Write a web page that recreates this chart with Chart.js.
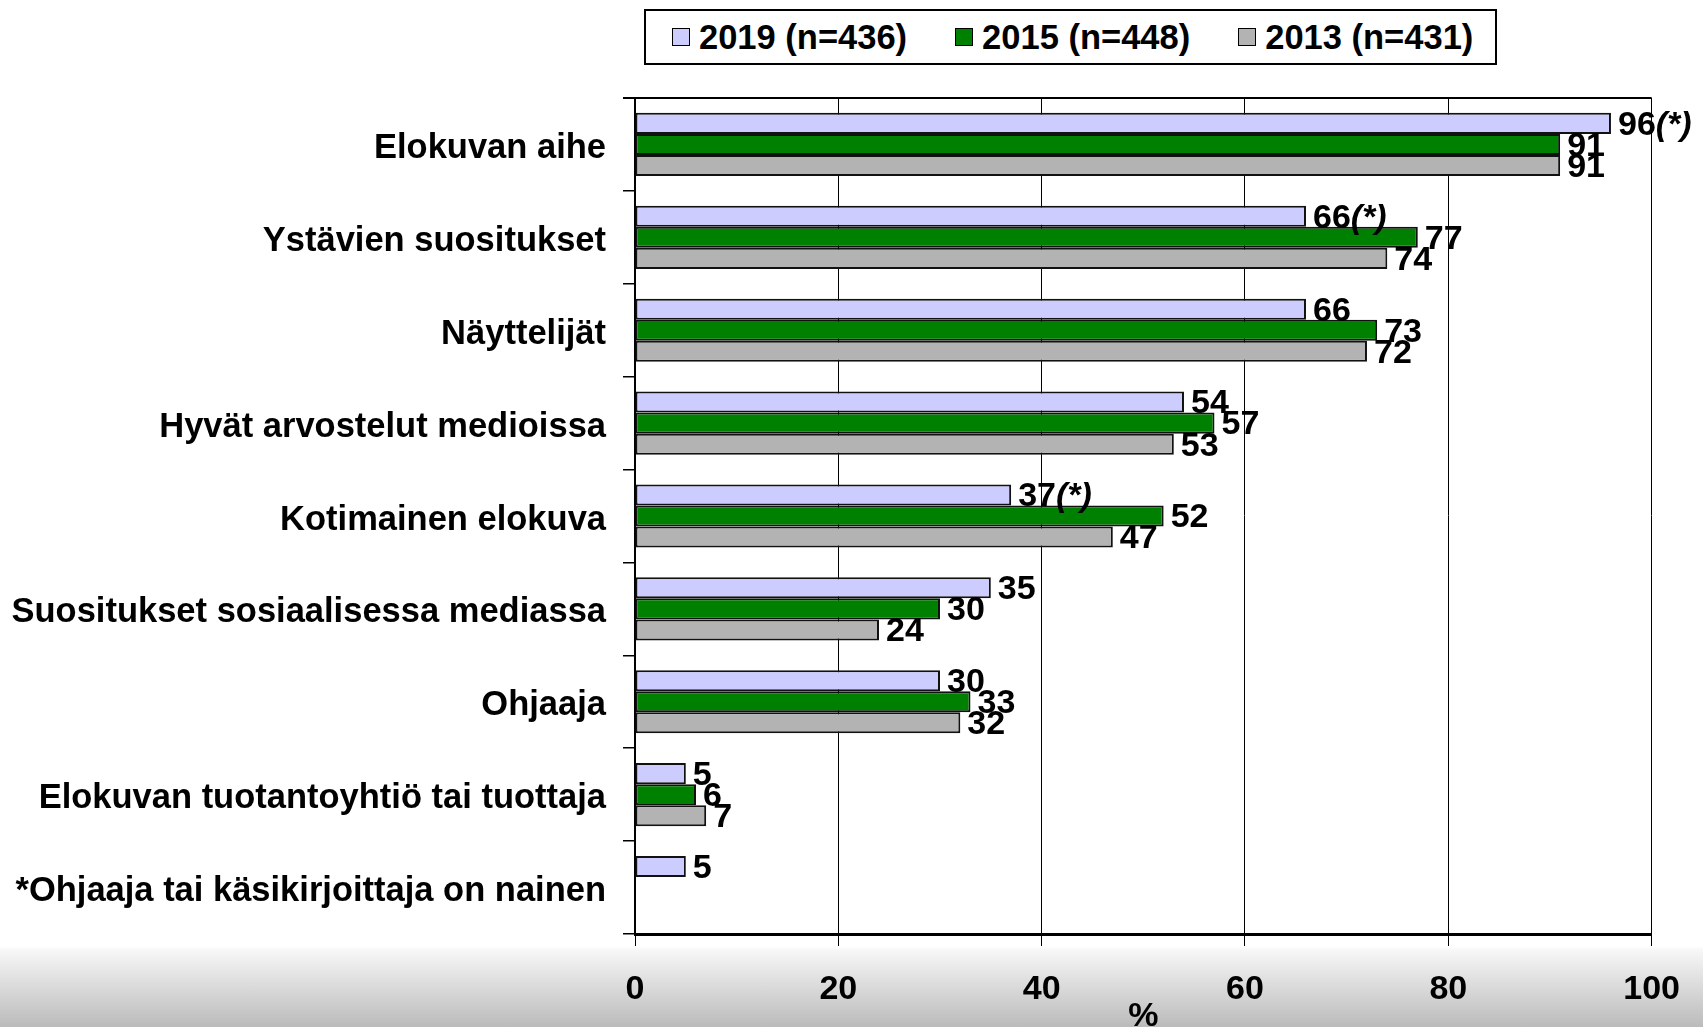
<!DOCTYPE html>
<html>
<head>
<meta charset="utf-8">
<title>Elokuvan valintaan vaikuttavat tekijät</title>
<script src="https://cdn.jsdelivr.net/npm/chart.js@4.4.1/dist/chart.umd.min.js"></script>
<style>
  html, body { margin: 0; padding: 0; }
  body {
    width: 1703px; height: 1027px; overflow: hidden; position: relative;
    background: linear-gradient(to bottom, #ffffff 0px, #ffffff 946px, #f7f7f7 950px, #bbbbbb 1027px);
    font-family: "Liberation Sans", Arial, sans-serif;
  }
  #chart { position: absolute; left: 0; top: 0; }
  #legend {
    position: absolute; left: 644px; top: 9px; width: 853px; height: 56px;
    box-sizing: border-box; border: 2px solid #000; background: #fff;
    display: flex; align-items: center; padding-left: 26px; gap: 48px;
  }
  .item { display: flex; align-items: center; font-weight: bold; font-size: 34.5px; color: #000; }
  .swatch { width: 18px; height: 18px; box-sizing: border-box; border: 1.5px solid #000; margin-right: 9px; }
</style>
</head>
<body>
<canvas id="chart" width="1703" height="1027"></canvas>
<div id="legend"></div>
<script>
const FONT = '"Liberation Sans", Arial, sans-serif';

const categories = [
    "Elokuvan aihe",
    "Ystävien suositukset",
    "Näyttelijät",
    "Hyvät arvostelut medioissa",
    "Kotimainen elokuva",
    "Suositukset sosiaalisessa mediassa",
    "Ohjaaja",
    "Elokuvan tuotantoyhtiö tai tuottaja",
    "*Ohjaaja tai käsikirjoittaja on nainen"
];
const seriesNames = ["2019 (n=436)", "2015 (n=448)", "2013 (n=431)"];
const values2019 = [96, 66, 66, 54, 37, 35, 30, 5, 5];
const values2015 = [91, 77, 73, 57, 52, 30, 33, 6, null];
const values2013 = [91, 74, 72, 53, 47, 24, 32, 7, null];
// (*) merkintä 2019-arvoissa
const starred2019 = [true, true, false, false, true, false, false, false, false];
const xTicks = [0, 20, 40, 60, 80, 100];

const colors = ["#ccccff", "#008000", "#b3b3b3"];

// Legend as html box
const legendEl = document.getElementById("legend");
seriesNames.forEach((name, i) => {
    const item = document.createElement("div");
    item.className = "item";
    const sw = document.createElement("span");
    sw.className = "swatch";
    sw.style.background = colors[i];
    item.appendChild(sw);
    item.appendChild(document.createTextNode(name));
    legendEl.appendChild(item);
});

// Value labels at the bar ends
const valueLabels = {
    id: "valueLabels",
    afterDatasetsDraw(chart) {
        const ctx = chart.ctx;
        ctx.save();
        ctx.textBaseline = "middle";
        ctx.textAlign = "left";
        ctx.fillStyle = "#000";
        chart.data.datasets.forEach((ds, di) => {
            const meta = chart.getDatasetMeta(di);
            meta.data.forEach((bar, i) => {
                const v = ds.data[i];
                if (v === null || v === undefined) return;
                const x = bar.x + 7;
                const y = bar.y + 2;
                const txt = String(v);
                ctx.font = "bold 34px " + FONT;
                ctx.fillText(txt, x, y);
                if (di === 0 && starred2019[i]) {
                    const w = ctx.measureText(txt).width;
                    ctx.font = "italic bold 34px " + FONT;
                    ctx.fillText("(*)", x + w, y);
                }
            });
        });
        ctx.restore();
    }
};

// Top frame line
const topLine = {
    id: "topLine",
    afterDraw(chart) {
        const { ctx, chartArea } = chart;
        ctx.save();
        ctx.strokeStyle = "#000";
        ctx.lineWidth = 2;
        ctx.beginPath();
        ctx.moveTo(chartArea.left - 12, chartArea.top);
        ctx.lineTo(chartArea.right, chartArea.top);
        ctx.stroke();
        ctx.restore();
    }
};

const ctx = document.getElementById("chart").getContext("2d");
new Chart(ctx, {
    type: "bar",
    data: {
        labels: categories,
        datasets: [
            { label: seriesNames[0], data: values2019, backgroundColor: colors[0] },
            { label: seriesNames[1], data: values2015, backgroundColor: colors[1] },
            { label: seriesNames[2], data: values2013, backgroundColor: colors[2] }
        ].map(d => Object.assign(d, {
            borderColor: "#111",
            borderWidth: 2,
            borderSkipped: false,
            categoryPercentage: 0.68,
            barPercentage: 1.0
        }))
    },
    options: {
        indexAxis: "y",
        responsive: false,
        animation: false,
        devicePixelRatio: 1,
        layout: { padding: { top: 98, right: 50, bottom: 0, left: 0 } },
        plugins: {
            legend: { display: false },
            tooltip: { enabled: false }
        },
        scales: {
            x: {
                min: 0,
                max: 100,
                afterBuildTicks(scale) {
                    scale.ticks = xTicks.map(v => ({ value: v }));
                },
                ticks: {
                    color: "#000",
                    padding: 23,
                    font: { family: FONT, size: 34, weight: "bold" }
                },
                grid: { color: "#000", lineWidth: 1, tickLength: 12 },
                border: { color: "#000", width: 3 },
                title: {
                    display: true,
                    text: "%",
                    color: "#000",
                    font: { family: FONT, size: 34, weight: "bold", lineHeight: 1 },
                    padding: { top: 0, bottom: -7 }
                },
                afterFit(scale) { scale.height = 93; }
            },
            y: {
                grid: {
                    display: true,
                    drawOnChartArea: false,
                    offset: true,
                    color: "#000",
                    lineWidth: 1.5,
                    tickLength: 12
                },
                border: { display: true, color: "#000", width: 2 },
                ticks: {
                    color: "#000",
                    padding: 17,
                    labelOffset: 4,
                    font: { family: FONT, size: 34.5, weight: "bold" }
                },
                afterFit(scale) { scale.width = 635; }
            }
        }
    },
    plugins: [valueLabels, topLine]
});
</script>
</body>
</html>
